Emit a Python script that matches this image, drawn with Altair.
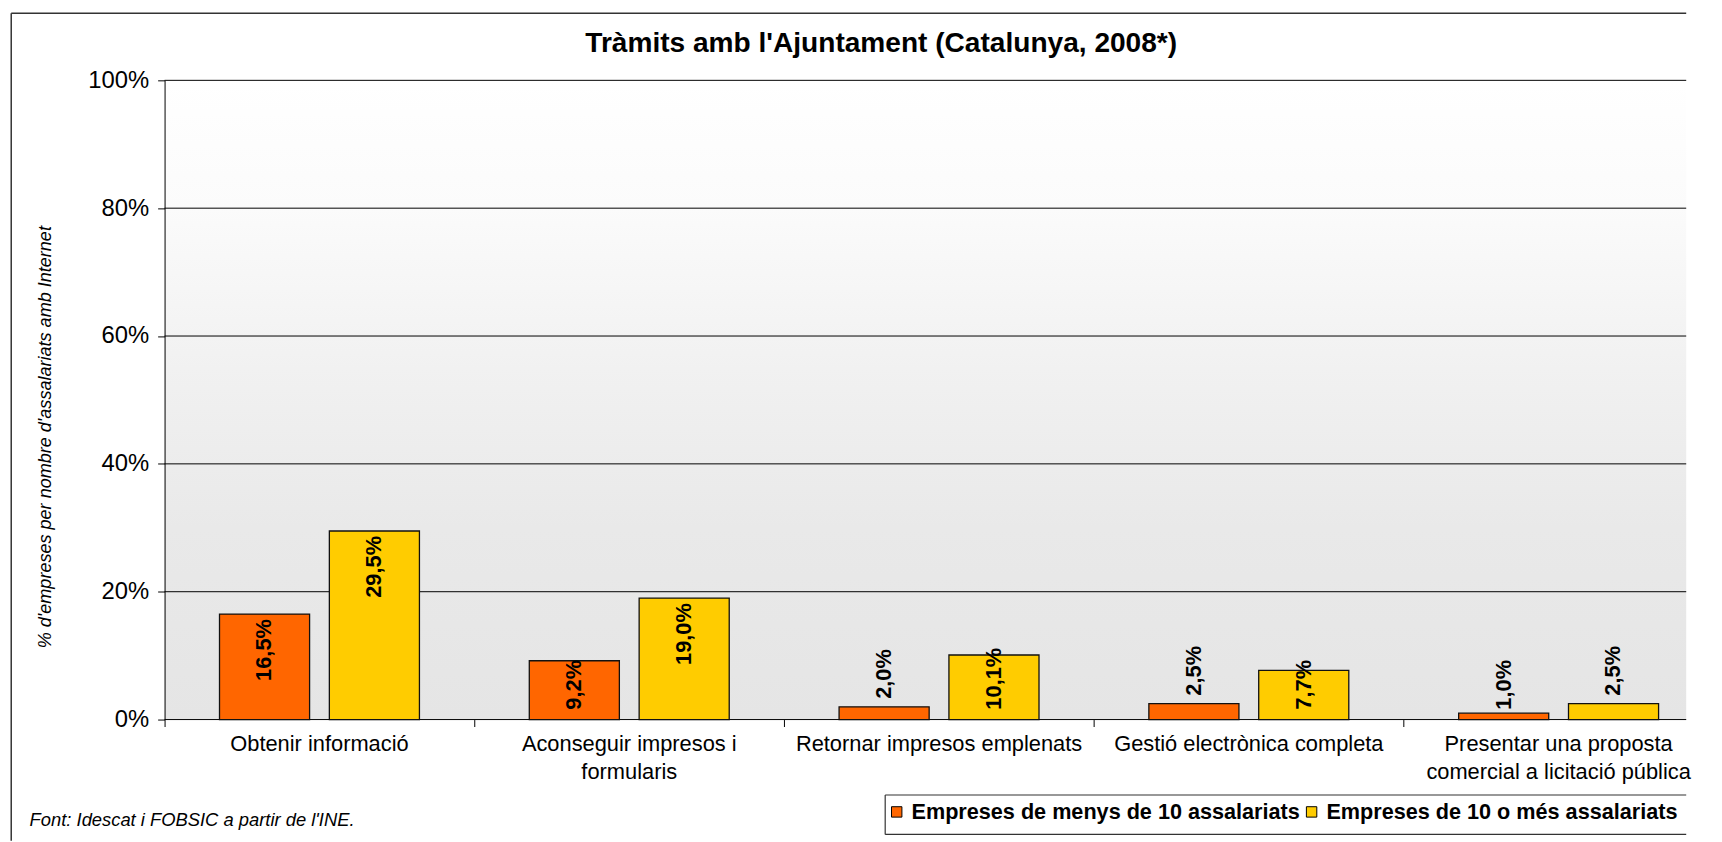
import altair as alt
import pandas as pd

# ---- data ----
categories = [
    "Obtenir informació",
    "Aconseguir impresos i\nformularis",
    "Retornar impresos emplenats",
    "Gestió electrònica completa",
    "Presentar una proposta\ncomercial a licitació pública",
]
series = ["Empreses de menys de 10 assalariats", "Empreses de 10 o més assalariats"]
small_firms = [16.5, 9.2, 2.0, 2.5, 1.0]
large_firms = [29.5, 19.0, 10.1, 7.7, 2.5]
y_ticks = [0, 20, 40, 60, 80, 100]
grid_values = [0, 20, 40, 60, 80, 100]
colors = ["#FF6600", "#FFCC00"]

title_text = "Tràmits amb l'Ajuntament (Catalunya, 2008*)"
y_title = "% d'empreses per nombre d'assalariats amb Internet"
source_text = "Font: Idescat i FOBSIC a partir de l'INE."

rows = []
for c, a, b in zip(categories, small_firms, large_firms):
    rows.append({"cat": c, "serie": series[0], "v": a})
    rows.append({"cat": c, "serie": series[1], "v": b})
df = pd.DataFrame(rows)

W, H = 1533, 644          # visible plot area (the original runs past the right edge)
X_RANGE = 1560.5          # full extent of the five category bands
FONT = "Liberation Sans"
LINE = "#333333"
LEG_BOTTOM = 759.7

x_enc = alt.X("cat:N", sort=categories,
              scale=alt.Scale(range=[0, X_RANGE], paddingInner=0, paddingOuter=0),
              axis=alt.Axis(title=None, labelAngle=0,
                            labelExpr="split(datum.label, '\\n')",
                            labelFontSize=22, labelColor="black", labelFont=FONT,
                            labelPadding=7, labelLineHeight=28, labelLimit=400,
                            labelOverlap=False, domain=False,
                            bandPosition=0, tickExtra=False,
                            tickSize=7, tickColor="black", zindex=1))
xo_enc = alt.XOffset("serie:N", sort=series,
                     scale=alt.Scale(paddingInner=0.18, paddingOuter=0.5))
y_enc = alt.Y("v:Q",
              scale=alt.Scale(domain=[0, 100], nice=False),
              axis=alt.Axis(values=y_ticks, labelExpr="datum.value + '%'",
                            grid=False, tickSize=7, tickColor="black",
                            domainColor="black", labelFontSize=24,
                            labelColor="black", labelFont=FONT, labelPadding=9,
                            title=y_title, titleFontSize=18.2, titleFont=FONT,
                            titleFontStyle="italic", titleFontWeight="normal",
                            titleColor="black", titleAngle=270, titleX=-120,
                            titleY=359, titleAlign="center",
                            titleBaseline="middle", zindex=1))

one = pd.DataFrame({"t": [title_text], "s": [source_text]})

background = alt.Chart(one).mark_rect(
    fill={"gradient": "linear", "x1": 0, "y1": 0, "x2": 0, "y2": 1,
          "stops": [{"offset": 0, "color": "#ffffff"},
                    {"offset": 0.2, "color": "#fbfbfb"},
                    {"offset": 0.45, "color": "#f1f1f1"},
                    {"offset": 0.7, "color": "#e9e9e9"},
                    {"offset": 1, "color": "#e5e5e5"}]}
).encode(x=alt.value(0), x2=alt.value(W), y=alt.value(0), y2=alt.value(H))

grid = alt.Chart(pd.DataFrame({"g": grid_values})).mark_rule(
    color="black", strokeWidth=1
).encode(y=alt.Y("g:Q", scale=alt.Scale(domain=[0, 100], nice=False)))

bars = alt.Chart(df).mark_bar(stroke="#111111", strokeWidth=1.3).encode(
    x=x_enc, xOffset=xo_enc, y=y_enc,
    color=alt.Color("serie:N", sort=series,
                    scale=alt.Scale(domain=series, range=colors),
                    legend=alt.Legend(title=None, orient="none", legendX=726.7,
                                      legendY=726, direction="horizontal",
                                      symbolType="square", symbolSize=110,
                                      symbolStrokeColor="black",
                                      symbolStrokeWidth=1, symbolOpacity=1,
                                      labelFontSize=21.8, labelFontWeight="bold",
                                      labelFont=FONT, labelColor="black",
                                      labelOffset=4, columnPadding=0,
                                      padding=0, labelLimit=600)),
)

lab_base = alt.Chart(df).transform_calculate(
    txt="replace(format(datum.v, '.1f'), '.', ',') + '%'",
    mode="datum.v >= 12 ? 'in' : ((datum.v >= 5 || datum.v < 1.5) ? 'base' : 'out')",
    zero="0",
)
text_style = dict(angle=270, baseline="middle", fontSize=22, fontWeight="bold",
                  font=FONT, color="black")
xl = alt.X("cat:N", sort=categories)
xol = alt.XOffset("serie:N", sort=series)

lab_in = lab_base.transform_filter("datum.mode == 'in'").mark_text(
    align="right", dx=-5, **text_style
).encode(x=xl, xOffset=xol, y="v:Q", text="txt:N")
lab_floor = lab_base.transform_filter("datum.mode == 'base'").mark_text(
    align="left", dx=10, **text_style
).encode(x=xl, xOffset=xol, y="zero:Q", text="txt:N")
lab_out = lab_base.transform_filter("datum.mode == 'out'").mark_text(
    align="left", dx=8, **text_style
).encode(x=xl, xOffset=xol, y="v:Q", text="txt:N")

title = alt.Chart(one).mark_text(
    align="center", baseline="alphabetic", fontSize=28.3, fontWeight="bold",
    font=FONT, color="black"
).encode(x=alt.value(722), y=alt.value(-29), text="t:N")

source = alt.Chart(one).mark_text(
    align="left", baseline="alphabetic", fontSize=18.5, fontStyle="italic",
    font=FONT, color="black"
).encode(x=alt.value(-136), y=alt.value(751), text="s:N")

# outer frame (its right and bottom sides lie outside the picture)
frame_top = alt.Chart(one).mark_rule(color=LINE, strokeWidth=1.5).encode(
    x=alt.value(-154.5), x2=alt.value(W), y=alt.value(-67.5))
frame_left = alt.Chart(one).mark_rule(color=LINE, strokeWidth=1.5).encode(
    x=alt.value(-154.5), y=alt.value(-67.5), y2=alt.value(H + 122))

# legend frame (its right side lies outside the picture)
leg_top = alt.Chart(one).mark_rule(color=LINE, strokeWidth=1.2).encode(
    x=alt.value(726), x2=alt.value(W), y=alt.value(720))
leg_bottom = alt.Chart(one).mark_rule(color=LINE, strokeWidth=1.2).encode(
    x=alt.value(726), x2=alt.value(W), y=alt.value(LEG_BOTTOM))
leg_left = alt.Chart(one).mark_rule(color=LINE, strokeWidth=1.2).encode(
    x=alt.value(726), y=alt.value(720), y2=alt.value(LEG_BOTTOM))

chart = alt.layer(
    background, grid, bars, lab_in, lab_floor, lab_out, title, source,
    frame_top, frame_left, leg_top, leg_bottom, leg_left
).properties(
    width=W, height=H,
    padding={"left": 1.75, "top": 0.75, "right": 0, "bottom": 0},
).configure(font=FONT).configure_view(strokeWidth=0)

chart.save("out.html", embed_options={"renderer": "svg", "actions": False})
